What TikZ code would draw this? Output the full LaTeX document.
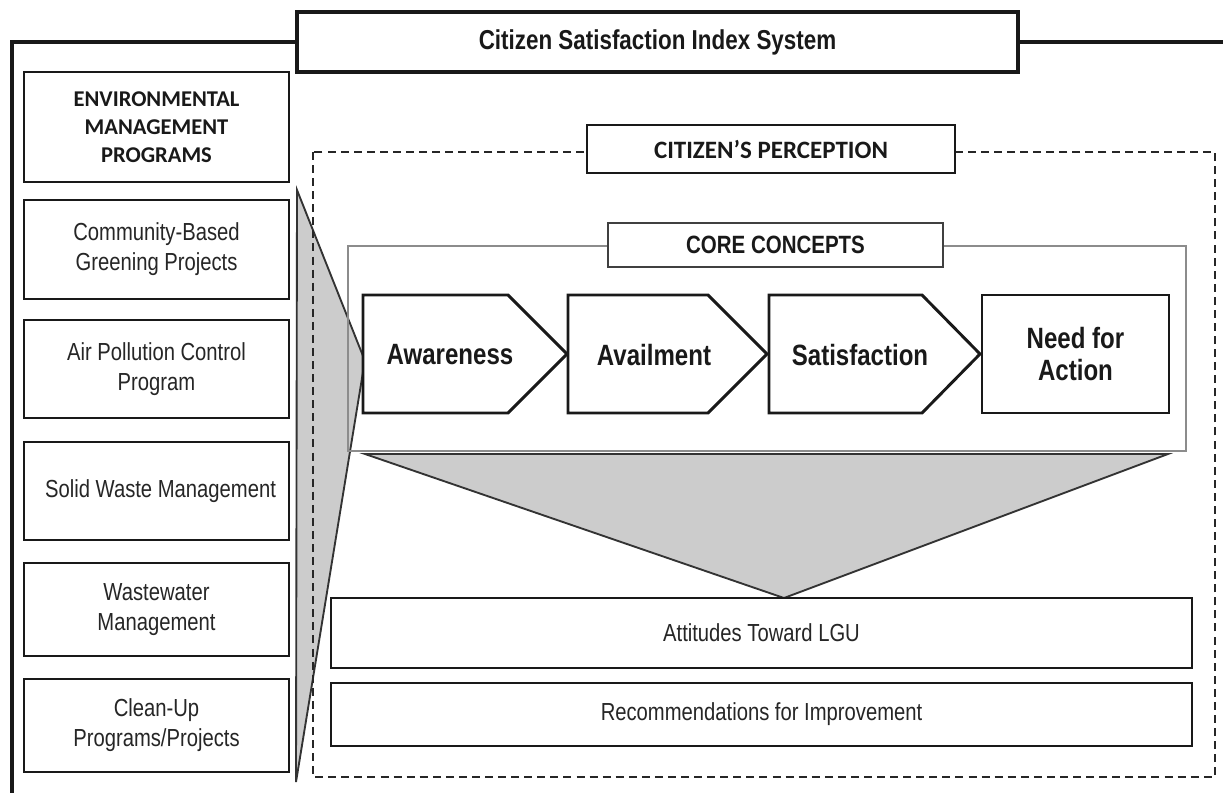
\documentclass[tikz,border=0pt]{standalone}
\usepackage{fontspec}
\setmainfont{Liberation Sans}
\newfontfamily\narrowfont[FakeStretch=0.82]{Liberation Sans}
\newfontfamily\calibfont{Carlito}
\begin{document}
\begin{tikzpicture}[x=0.75pt,y=-0.75pt,
  frame/.style={draw=black!90, line width=2.3pt},
  box/.style 2 args={draw=black!90, line width=2.2pt, fill=white, inner sep=0pt,
    minimum width=#1*0.75pt, minimum height=#2*0.75pt, align=center},
  progtext/.style={font=\narrowfont\fontsize{18.5}{22.5}\selectfont, text=black!85},
  headtext/.style={font=\calibfont\bfseries\fontsize{16.9}{21}\selectfont, text=black!90},
  steptext/.style={font=\narrowfont\bfseries\fontsize{22}{24}\selectfont, text=black!90},
  chevron/.style={draw=black!90, line width=2.2pt, fill=white, line join=miter},
  funnel/.style={draw=black!80, line width=1.4pt, fill=black!20, line join=miter},
]
\useasboundingbox (0,0) rectangle (1223,792);

% gray funnels
\draw[funnel] (297,190) -- (363,356) -- (363,372) -- (296,782) -- cycle;
\draw[funnel] (365,454) -- (1168,454) -- (784,598) -- cycle;

% perception area and core concept frame
\draw[draw=black!85, line width=1.5pt, dash pattern=on 6pt off 3.8pt] (313,152) rectangle (1215,777);
\draw[draw=black!45, line width=1.1pt] (348,246) rectangle (1186,451);

% title and outer frame
\node[box={721}{60}, line width=2.6pt, font=\narrowfont\bfseries\fontsize{20.5}{24}\selectfont, text=black!90]
  (title) at (657.5,42) {Citizen Satisfaction Index System};
\draw[frame] (12,794) |- (title.west);
\draw[frame] (title.east) -- (1225,42);

% left column of programs
\node[box={265}{110}, headtext] (env) at (156.5,127) {ENVIRONMENTAL\\MANAGEMENT\\PROGRAMS};
\node[box={265}{99}, progtext] (green) at (156.5,249.5) {Community-Based\\Greening Projects};
\node[box={265}{98}, progtext] (air) at (156.5,369) {Air Pollution Control\\Program};
\node[box={265}{98}, progtext] (solid) at (156.5,491) {\hspace*{6pt}Solid Waste Management};
\node[box={265}{93}, progtext] (waste) at (156.5,609.5) {Wastewater\\Management};
\node[box={265}{93}, progtext] (clean) at (156.5,725.5) {Clean-Up\\Programs/Projects};

% section headers
\node[box={368}{48}, font=\calibfont\bfseries\fontsize{18.75}{22}\selectfont, text=black!90]
  (perc) at (771,149) {CITIZEN’S PERCEPTION};
\node[box={335}{44}, draw=black!75, line width=1.6pt,
  font=\narrowfont\bfseries\fontsize{18.75}{22}\selectfont, text=black!90]
  (core) at (775.5,245) {CORE CONCEPTS};

% core concept steps
\draw[chevron] (363,295) -- (508,295) -- (567,354) -- (508,413) -- (363,413) -- cycle;
\draw[chevron] (568,295) -- (708,295) -- (767,354) -- (708,413) -- (568,413) -- cycle;
\draw[chevron] (769,295) -- (922,295) -- (980,354) -- (922,413) -- (769,413) -- cycle;
\node[steptext] (aware) at (450,355) {Awareness};
\node[steptext] (avail) at (654,355) {Availment};
\node[steptext] (satis) at (860,355) {Satisfaction};
\node[box={187}{118}, steptext] (need) at (1075.5,354) {Need for\\Action};

% outcomes
\node[box={861}{70}, progtext] (att) at (761.5,633) {Attitudes Toward LGU};
\node[box={861}{63}, progtext, text depth=4pt] (rec) at (761.5,714.5) {Recommendations for Improvement};
\end{tikzpicture}
\end{document}
